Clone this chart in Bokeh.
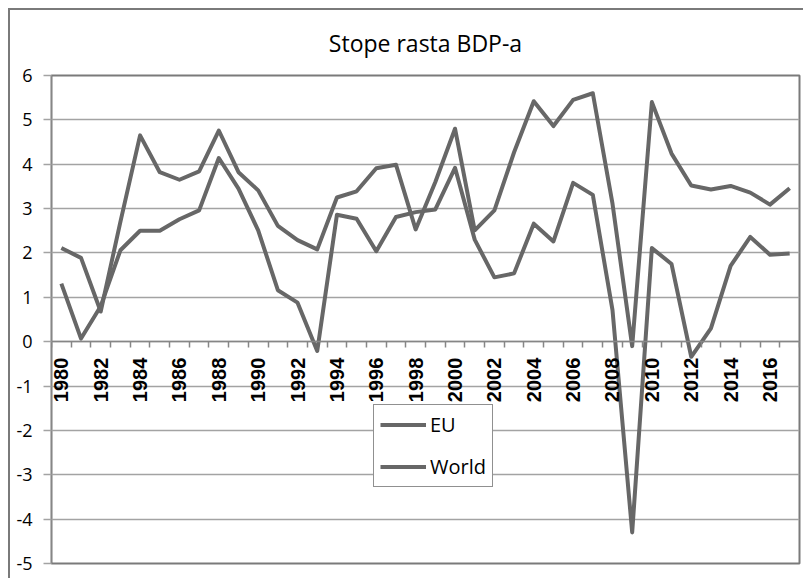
import math
from bokeh.plotting import figure
from bokeh.models import LinearAxis, FixedTicker, Legend, LegendItem, Range1d
from bokeh.embed import file_html
from bokeh.resources import INLINE

years = [1980, 1981, 1982, 1983, 1984, 1985, 1986, 1987, 1988, 1989,
         1990, 1991, 1992, 1993, 1994, 1995, 1996, 1997, 1998, 1999,
         2000, 2001, 2002, 2003, 2004, 2005, 2006, 2007, 2008, 2009,
         2010, 2011, 2012, 2013, 2014, 2015, 2016, 2017]
eu = [1.31, 0.07, 0.80, 2.06, 2.50, 2.50, 2.76, 2.96, 4.14, 3.45,
      2.51, 1.16, 0.88, -0.21, 2.86, 2.77, 2.04, 2.81, 2.92, 2.98,
      3.92, 2.30, 1.45, 1.54, 2.66, 2.26, 3.58, 3.31, 0.71, -4.30,
      2.11, 1.75, -0.34, 0.30, 1.71, 2.36, 1.96, 1.99]
world = [2.11, 1.89, 0.68, 2.70, 4.65, 3.82, 3.65, 3.84, 4.76, 3.82,
         3.41, 2.61, 2.29, 2.08, 3.25, 3.39, 3.91, 3.99, 2.53, 3.60,
         4.80, 2.51, 2.96, 4.27, 5.42, 4.86, 5.45, 5.60, 3.11, -0.10,
         5.40, 4.24, 3.52, 3.43, 3.51, 3.36, 3.09, 3.46]
label_years = [1980, 1982, 1984, 1986, 1988, 1990, 1992, 1994, 1996, 1998,
               2000, 2002, 2004, 2006, 2008, 2010, 2012, 2014, 2016]
y_ticks = [-5, -4, -3, -2, -1, 0, 1, 2, 3, 4, 5, 6]
title_text = "Stope rasta BDP-a"
series_names = ["EU", "World"]

LINE = "#676767"
AXIS = "#868686"
GRID = "#a3a3a3"

p = figure(width=795, height=570, output_backend="svg", toolbar_location=None,
           x_range=Range1d(years[0] - 0.5, years[-1] + 0.5),
           y_range=Range1d(y_ticks[0], y_ticks[-1]),
           min_border_left=41, min_border_right=6, min_border_top=65,
           min_border_bottom=17)
p.styles = {"margin-left": "8px", "margin-top": "8px",
            "border-left": "2px solid #7a7a7a", "border-top": "2px solid #7a7a7a"}

p.title.text = title_text
p.title.align = "center"
p.title.vertical_align = "top"
p.title.text_font = "Open Sans"
p.title.text_font_size = "23px"
p.title.text_font_style = "normal"
p.title.text_color = "#000000"
p.title.standoff = 30

p.outline_line_color = "#7a7a7a"
p.outline_line_width = 2

# x axis: boundary ticks, at y = 0
xa = p.xaxis[0]
xa.fixed_location = 0
xa.ticker = FixedTicker(ticks=[y - 0.5 for y in years] + [years[-1] + 0.5])
xa.major_label_text_color = None
xa.major_tick_out = 6
xa.major_tick_in = 0
xa.minor_tick_line_color = None
xa.axis_line_color = AXIS
xa.axis_line_width = 1.5
xa.major_tick_line_color = AXIS
xa.major_tick_line_width = 1.5

# x axis labels
xl = LinearAxis(ticker=FixedTicker(ticks=label_years), fixed_location=0)
xl.axis_line_color = None
xl.major_tick_line_color = None
xl.minor_tick_line_color = None
xl.major_tick_out = 6
xl.major_tick_in = 0
xl.major_label_standoff = 10
xl.major_label_orientation = math.pi / 2
xl.major_label_text_font = "Liberation Sans"
xl.major_label_text_font_size = "20px"
xl.major_label_text_font_style = "bold"
xl.major_label_text_color = "#000000"
p.add_layout(xl, "below")

p.xgrid.visible = False

ya = p.yaxis[0]
ya.ticker = FixedTicker(ticks=y_ticks)
ya.major_label_overrides = {t: str(t) for t in y_ticks}
ya.major_tick_out = 8
ya.major_tick_in = 0
ya.minor_tick_line_color = None
ya.axis_line_color = AXIS
ya.axis_line_width = 1
ya.major_tick_line_color = GRID
ya.major_tick_line_width = 1.5
ya.major_label_standoff = 11
ya.major_label_text_font = "Open Sans"
ya.major_label_text_font_size = "18px"
ya.major_label_text_color = "#000000"

p.ygrid.ticker = FixedTicker(ticks=y_ticks)
p.ygrid.grid_line_color = GRID
p.ygrid.grid_line_width = 1.5

r_eu = p.line(years, eu, line_color=LINE, line_width=4, line_join="round")
r_w = p.line(years, world, line_color=LINE, line_width=4, line_join="round")

legend = Legend(items=[LegendItem(label=series_names[0], renderers=[r_eu]),
                       LegendItem(label=series_names[1], renderers=[r_w])],
                location=(322, 76))
legend.margin = 0
legend.padding = 6
legend.spacing = 15
legend.glyph_width = 46
legend.glyph_height = 27
legend.label_height = 27
legend.label_standoff = 4
legend.label_text_font = "Open Sans"
legend.label_text_font_size = "20px"
legend.label_text_color = "#000000"
legend.border_line_color = "#222222"
legend.border_line_width = 1
legend.background_fill_alpha = 1
p.add_layout(legend)

open("out.html", "w").write(file_html(p, INLINE))
